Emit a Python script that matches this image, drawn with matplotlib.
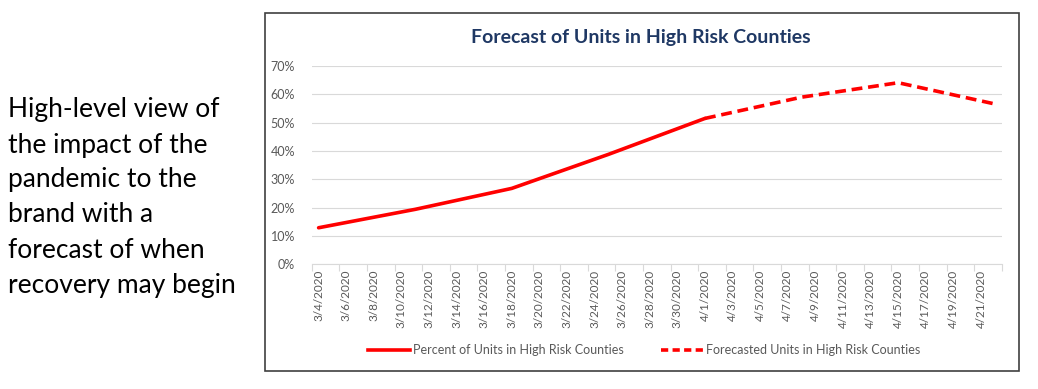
import matplotlib.pyplot as plt
import matplotlib.dates as mdates
from matplotlib.lines import Line2D
from matplotlib.patches import Rectangle
import pandas as pd
import numpy as np

plt.rcParams['font.family'] = ['Lato', 'DejaVu Sans']

# data (percent)
actual_dates = ["3/4/2020", "3/11/2020", "3/18/2020", "3/25/2020", "4/1/2020"]
actual_pct = [12.9, 19.4, 26.8, 38.8, 51.5]
forecast_dates = ["4/1/2020", "4/8/2020", "4/15/2020", "4/22/2020"]
forecast_pct = [51.5, 59.0, 64.1, 56.6]

tick_labels = ["3/4/2020", "3/6/2020", "3/8/2020", "3/10/2020", "3/12/2020",
               "3/14/2020", "3/16/2020", "3/18/2020", "3/20/2020", "3/22/2020",
               "3/24/2020", "3/26/2020", "3/28/2020", "3/30/2020", "4/1/2020",
               "4/3/2020", "4/5/2020", "4/7/2020", "4/9/2020", "4/11/2020",
               "4/13/2020", "4/15/2020", "4/17/2020", "4/19/2020", "4/21/2020"]
y_ticks = [0, 10, 20, 30, 40, 50, 60, 70]

title = "Forecast of Units in High Risk Counties"
side_lines = ["High-level view of", "the impact of the", "pandemic to the",
              "brand with a", "forecast of when", "recovery may begin"]
legend_labels = ["Percent of Units in High Risk Counties",
                 "Forecasted Units in High Risk Counties"]

W, H = 1038, 389
fig = plt.figure(figsize=(W / 100, H / 100), dpi=100)

# chart frame
fig.patches.append(Rectangle((264.5 / W, 1 - 371 / H), (1019.3 - 264.5) / W,
                             (371 - 13) / H, transform=fig.transFigure,
                             fill=False, edgecolor='#404040', linewidth=1.2))

ax = fig.add_axes([311.7 / W, 1 - 264.3 / H, 690 / W, 198.3 / H])

xa = mdates.date2num(pd.to_datetime(actual_dates, format="%m/%d/%Y"))
xf = mdates.date2num(pd.to_datetime(forecast_dates, format="%m/%d/%Y"))
red = '#FF0000'
ax.plot(xa, np.array(actual_pct) / 100, color=red, lw=2.6, solid_capstyle='round')
ax.plot(xf, np.array(forecast_pct) / 100, color=red, lw=2.6, dashes=(3, 1.6))

xt = mdates.date2num(pd.to_datetime(tick_labels, format="%m/%d/%Y"))
ax.set_xlim(xt[0] - 0.5, xt[-1] + 1.5)
ax.set_xticks(xt)
ax.set_xticklabels(tick_labels, rotation=90, fontsize=8.5, color='#595959')
ax.set_xticks(np.append(xt - 0.5, xt[-1] + 1.5), minor=True)
ax.tick_params(axis='x', which='major', length=0, pad=4)
ax.tick_params(axis='x', which='minor', length=5, color='#D9D9D9', width=0.8)

ax.set_ylim(0, 0.7)
ax.set_yticks(np.array(y_ticks) / 100)
ax.set_yticklabels([f"{v}%" for v in y_ticks], fontsize=9, color='#595959')
ax.tick_params(axis='y', length=0, pad=12)
ax.grid(axis='y', color='#D9D9D9', linewidth=0.8)
ax.set_axisbelow(True)
for s in ['top', 'right', 'left']:
    ax.spines[s].set_visible(False)
ax.spines['bottom'].set_color('#D9D9D9')
ax.spines['bottom'].set_linewidth(0.8)

fig.text(641 / W, 1 - 38 / H, title, ha='center', va='center',
         fontsize=14, fontweight='bold', color='#1F3864')

handles = [Line2D([], [], color=red, lw=2.6),
           Line2D([], [], color=red, lw=2.6, dashes=(2, 1.2))]
fig.legend(handles, legend_labels, loc='center', bbox_to_anchor=(644 / W, 1 - 350 / H),
           ncol=2, frameon=False, fontsize=9, labelcolor='#595959',
           handlelength=3.4, handletextpad=0.2, columnspacing=3.0)

for i, line in enumerate(side_lines):
    fig.text(8 / W, 1 - (110 + i * 35) / H, line, ha='left', va='center',
             fontsize=19, color='black')

fig.savefig("out.png", dpi=100)
